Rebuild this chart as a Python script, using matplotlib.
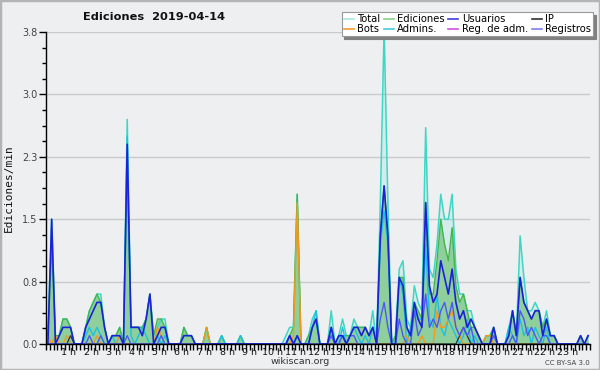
import numpy as np
import matplotlib
matplotlib.use("Agg")
import matplotlib.pyplot as plt
from matplotlib.lines import Line2D
from matplotlib.patches import Rectangle
from matplotlib.ticker import FixedLocator

# ---- data: edits per minute, 10-minute bins (6 per hour, 24 hours) ----
total = [
    0.1, 1.5, 0.1, 0.1, 0.3, 0.3,   0.2, 0, 0, 0, 0.2, 0.4,
    0.5, 0.6, 0.6, 0.2, 0, 0.1,     0.1, 0.2, 0, 2.7, 0.2, 0.2,
    0.2, 0.2, 0.3, 0.6, 0.1, 0.2,   0.3, 0.3, 0, 0, 0, 0,
    0.2, 0.1, 0.1, 0, 0, 0,         0.2, 0, 0, 0, 0.1, 0,
    0, 0, 0, 0.1, 0, 0,             0, 0, 0, 0, 0, 0,
    0, 0, 0, 0.1, 0.2, 0.2,         1.8, 0, 0, 0.1, 0.3, 0.4,
    0, 0, 0, 0.4, 0, 0.1,           0.3, 0.1, 0.1, 0.3, 0.2, 0.2,
    0.2, 0.1, 0.4, 0, 1.7, 3.8,     1.7, 0, 0.1, 0.9, 1.0, 0.3,
    0.2, 0.7, 0.5, 0.4, 2.6, 0.9,   0.8, 1.2, 1.8, 1.5, 1.5, 1.8,
    0.9, 0.6, 0.6, 0.4, 0.4, 0.2,   0.1, 0, 0.1, 0.1, 0.2, 0,
    0, 0, 0.2, 0.4, 0.1, 1.3,       0.8, 0.4, 0.4, 0.5, 0.4, 0.2,
    0.4, 0.1, 0.1, 0, 0, 0,         0, 0, 0, 0.1, 0, 0.1,
]
edits = [
    0.1, 1.2, 0.1, 0.1, 0.3, 0.3,   0.2, 0, 0, 0, 0.2, 0.4,
    0.5, 0.6, 0.5, 0.2, 0, 0.1,     0.1, 0.2, 0, 2.1, 0.2, 0.2,
    0.2, 0.2, 0.3, 0.6, 0.1, 0.3,   0.3, 0.2, 0, 0, 0, 0,
    0.2, 0.1, 0.1, 0, 0, 0,         0.2, 0, 0, 0, 0.1, 0,
    0, 0, 0, 0.1, 0, 0,             0, 0, 0, 0, 0, 0,
    0, 0, 0, 0, 0.1, 0.2,           1.8, 0, 0, 0.1, 0.2, 0.3,
    0, 0, 0, 0.2, 0, 0.1,           0.1, 0.1, 0.1, 0.2, 0.2, 0.2,
    0.2, 0.1, 0.2, 0, 1.3, 1.9,     1.3, 0, 0.1, 0.8, 0.8, 0.2,
    0.1, 0.5, 0.4, 0.3, 1.7, 0.6,   0.6, 1.0, 1.5, 1.2, 1.0, 1.4,
    0.7, 0.5, 0.6, 0.4, 0.2, 0.2,   0.1, 0, 0.1, 0.1, 0.2, 0,
    0, 0, 0.1, 0.4, 0.1, 0.8,       0.5, 0.4, 0.3, 0.4, 0.4, 0.2,
    0.3, 0.1, 0.1, 0, 0, 0,         0, 0, 0, 0.1, 0, 0.1,
]
users = [
    0, 1.5, 0, 0.1, 0.2, 0.2,       0.2, 0, 0, 0, 0.2, 0.3,
    0.4, 0.5, 0.5, 0.2, 0, 0.1,     0.1, 0.1, 0, 2.4, 0.2, 0.2,
    0.2, 0.1, 0.3, 0.6, 0, 0.1,     0.2, 0.2, 0, 0, 0, 0,
    0.1, 0.1, 0.1, 0, 0, 0,         0, 0, 0, 0, 0, 0,
    0, 0, 0, 0, 0, 0,               0, 0, 0, 0, 0, 0,
    0, 0, 0, 0, 0.1, 0,             0.1, 0, 0, 0, 0.2, 0.3,
    0, 0, 0, 0.2, 0, 0.1,           0.1, 0, 0.1, 0.2, 0.2, 0.1,
    0.2, 0.1, 0.2, 0, 1.3, 1.9,     1.3, 0, 0, 0.8, 0.7, 0.2,
    0.1, 0.5, 0.3, 0.2, 1.7, 0.7,   0.5, 0.6, 1.0, 0.8, 0.6, 0.9,
    0.5, 0.3, 0.4, 0.2, 0.3, 0.2,   0.1, 0, 0, 0, 0.2, 0,
    0, 0, 0.1, 0.4, 0.1, 0.8,       0.5, 0.4, 0.3, 0.4, 0.4, 0.1,
    0.3, 0.1, 0.1, 0, 0, 0,         0, 0, 0, 0.1, 0, 0.1,
]
ip = [
    0, 0, 0, 0, 0, 0,               0.1, 0, 0, 0, 0, 0,
    0, 0, 0, 0, 0, 0,               0, 0, 0, 0, 0, 0,
    0, 0, 0, 0, 0, 0,               0, 0, 0, 0, 0, 0,
    0, 0, 0, 0, 0, 0,               0, 0, 0, 0, 0, 0,
    0, 0, 0, 0, 0, 0,               0, 0, 0, 0, 0, 0,
    0, 0, 0, 0, 0, 0,               0, 0, 0, 0, 0, 0,
    0, 0, 0, 0, 0, 0,               0, 0, 0, 0, 0, 0,
    0, 0, 0, 0, 0, 0,               0, 0, 0, 0, 0, 0,
    0, 0, 0, 0, 0, 0,               0, 0, 0, 0, 0, 0,
    0, 0.1, 0.2, 0.1, 0, 0,         0, 0, 0, 0, 0, 0,
    0, 0, 0, 0, 0, 0,               0, 0, 0, 0, 0, 0,
    0, 0, 0, 0, 0, 0,               0, 0, 0, 0, 0, 0,
]
bots = [
    0.1, 0, 0.1, 0, 0, 0.1,         0, 0, 0, 0, 0, 0,
    0, 0.1, 0, 0, 0, 0,             0, 0.1, 0, 0, 0, 0,
    0, 0, 0, 0, 0, 0.2,             0.1, 0, 0, 0, 0, 0,
    0, 0, 0, 0, 0, 0,               0.2, 0, 0, 0, 0, 0,
    0, 0, 0, 0, 0, 0,               0, 0, 0, 0, 0, 0,
    0, 0, 0, 0, 0, 0.1,             1.7, 0, 0, 0, 0, 0,
    0, 0, 0, 0, 0, 0,               0, 0, 0, 0, 0, 0,
    0, 0, 0, 0, 0, 0,               0, 0, 0, 0, 0, 0.1,
    0, 0, 0, 0.1, 0, 0,             0, 0.4, 0.2, 0.2, 0.3, 0.4,
    0.2, 0.1, 0, 0, 0, 0,           0, 0, 0.1, 0.1, 0, 0,
    0, 0, 0, 0, 0, 0,               0, 0, 0, 0, 0, 0,
    0, 0, 0, 0, 0, 0,               0, 0, 0, 0, 0, 0,
]
admins = [
    0, 0, 0, 0, 0, 0,               0, 0, 0, 0, 0.1, 0.2,
    0.1, 0.2, 0.1, 0, 0, 0.1,       0, 0.1, 0, 2.5, 0.1, 0,
    0.1, 0.2, 0.1, 0, 0, 0.1,       0, 0.1, 0, 0, 0, 0,
    0, 0, 0, 0, 0, 0,               0, 0, 0, 0, 0.1, 0,
    0, 0, 0, 0.1, 0, 0,             0, 0, 0, 0, 0, 0,
    0, 0, 0, 0, 0.1, 0,             0.1, 0, 0, 0, 0.2, 0.4,
    0, 0, 0, 0.2, 0, 0,             0.2, 0, 0.1, 0.2, 0.1, 0,
    0.1, 0, 0.2, 0, 1.2, 1.6,       1.2, 0, 0, 0.8, 0.6, 0,
    0.2, 0.4, 0.3, 0.3, 1.2, 0.3,   0.2, 0.6, 0.2, 0.1, 0.3, 0.2,
    0.1, 0, 0.1, 0.3, 0, 0.1,       0, 0, 0, 0, 0, 0,
    0, 0, 0.2, 0.1, 0, 0.3,         0.1, 0.2, 0, 0.2, 0.1, 0,
    0.2, 0, 0, 0, 0, 0,             0, 0, 0, 0, 0, 0,
]
registros = [
    0, 0, 0, 0, 0, 0,               0, 0, 0, 0, 0, 0.1,
    0, 0, 0.1, 0, 0, 0,             0, 0, 0, 0.1, 0, 0,
    0, 0, 0, 0, 0, 0,               0.1, 0, 0, 0, 0, 0,
    0, 0, 0, 0, 0, 0,               0, 0, 0, 0, 0, 0,
    0, 0, 0, 0, 0, 0,               0, 0, 0, 0, 0, 0,
    0, 0, 0, 0, 0.1, 0,             0, 0, 0, 0, 0, 0,
    0, 0, 0, 0.1, 0, 0,             0.1, 0, 0.1, 0.1, 0, 0,
    0, 0, 0, 0, 0.3, 0.5,           0.2, 0, 0, 0.3, 0.1, 0,
    0, 0.4, 0.1, 0.2, 0.6, 0.2,     0.3, 0.2, 0.4, 0.5, 0.3, 0.5,
    0.2, 0.1, 0.2, 0.1, 0.2, 0,     0, 0, 0, 0, 0.1, 0,
    0, 0, 0, 0.1, 0, 0.4,           0.3, 0.1, 0.2, 0.1, 0, 0.1,
    0.1, 0, 0, 0, 0, 0,             0, 0, 0, 0, 0, 0,
]

hour_ticks = list(range(1, 24))
hour_labels = [f"{h} h" for h in hour_ticks]
y_ticks = [0, 0.75, 1.5, 2.25, 3.0, 3.75]
y_labels = ["0.0", "0.8", "1.5", "2.3", "3.0", "3.8"]

legend_labels = ["Total", "Bots", "Ediciones", "Admins.", "Usuarios",
                 "Reg. de adm.", "IP", "Registros"]
legend_colors = ["#a9e6df", "#f39c2f", "#86cf86", "#45c8d8", "#3d3de0",
                 "#d050e0", "#303030", "#7f7fee"]

# ---- figure ----
BG = "#eeeff1"
fig = plt.figure(figsize=(6, 3.7), dpi=100, facecolor=BG)
ax = fig.add_axes([46 / 600, 1 - 344 / 370, 544 / 600, 312 / 370])
ax.set_facecolor(BG)

t = (np.arange(len(total)) + 0.5) / 6.0

ax.fill_between(t, total, color="#48d8c8", alpha=0.16, lw=0, zorder=2)
ax.fill_between(t, edits, color="#8fcf9c", lw=0, zorder=3)
ax.plot(t, total, color="#3ed6c4", lw=1.1, zorder=4)
ax.plot(t, edits, color="#44b54a", lw=1.0, zorder=5)
ax.plot(t, admins, color="#1ec0e0", lw=1.0, zorder=6)
ax.plot(t, bots, color="#f39a1e", lw=1.0, zorder=7)
ax.plot(t, ip, color="#303030", lw=0.9, zorder=8)
ax.plot(t, registros, color="#4a5af2", lw=1.0, zorder=9)
ax.plot(t, users, color="#1a22d8", lw=1.2, zorder=10)

ax.set_xlim(0, 24)
ax.set_ylim(0, 3.75)

for s in ("top", "right"):
    ax.spines[s].set_visible(False)
for s in ("left", "bottom"):
    ax.spines[s].set_color("black")
    ax.spines[s].set_linewidth(1.0)
    ax.spines[s].set_zorder(12)

ax.set_yticks(y_ticks)
ax.set_yticklabels(y_labels)
ax.yaxis.set_minor_locator(FixedLocator(np.arange(0, 3.76, 0.1875)))
ax.set_xticks(hour_ticks)
ax.set_xticklabels(hour_labels)
ax.xaxis.set_minor_locator(FixedLocator(np.arange(0, 24.01, 1 / 6)))
ax.tick_params(axis="y", which="major", length=5, width=1, labelsize=7,
               labelcolor="#444444", pad=1)
ax.tick_params(axis="y", which="minor", length=3, width=1)
ax.tick_params(axis="x", which="both", length=4, width=1, pad=-1.0)
for lab in ax.get_xticklabels():
    lab.set_fontsize(6.8)
    lab.set_color("#111111")

ax.yaxis.grid(True, which="major", color="#c9cacc", lw=1.0)
ax.set_axisbelow(True)

fig.text(9 / 600, 1 - 188 / 370, "Ediciones/min", rotation=90,
         ha="center", va="center", fontsize=8, family="DejaVu Sans Mono",
         color="#111111")
fig.text(154 / 600, 1 - 17 / 370, "Ediciones  2019-04-14", ha="center",
         va="center", fontsize=8.2, fontweight="bold", color="#111111")
fig.text(300 / 600, 1 - 362 / 370, "wikiscan.org", ha="center", va="center",
         fontsize=6.8, color="#333333")
fig.text(590 / 600, 1 - 363 / 370, "CC BY-SA 3.0", ha="right", va="center",
         fontsize=5, color="#444444")

handles = [Line2D([], [], color=c, lw=1.2) for c in legend_colors]
leg = fig.legend(handles, legend_labels, ncol=4, loc="upper right",
                 bbox_to_anchor=(593 / 600, 1 - 12 / 370), fontsize=7.2,
                 frameon=True, fancybox=False, shadow={"color": "#808080", "alpha": 1},
                 edgecolor="#999999", framealpha=1, handlelength=1.0,
                 handletextpad=0.35, columnspacing=0.35, borderpad=0.2,
                 labelspacing=0.0, borderaxespad=0)
leg.get_frame().set_linewidth(0.8)

fig.patches.append(Rectangle((0, 0), 1, 1, transform=fig.transFigure,
                             fill=False, edgecolor="#b4b4b4", lw=2.5))

fig.savefig("out.png", dpi=100, facecolor=BG)
